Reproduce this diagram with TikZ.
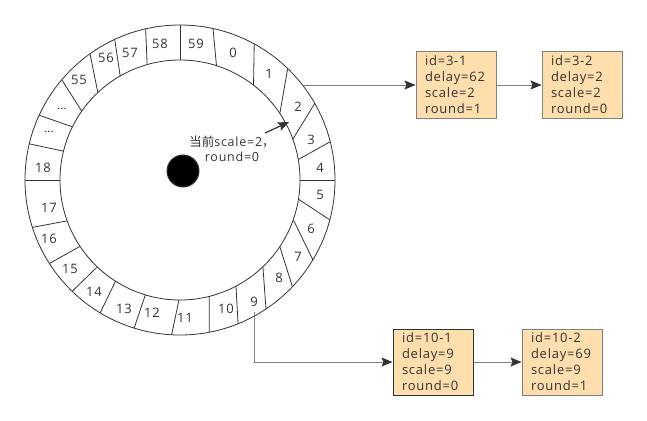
\documentclass[tikz,border=0pt]{standalone}
\usepackage{fontspec}
\setmainfont{Open Sans}[LetterSpace=6]
\newfontfamily\cjkfont{Noto Sans CJK SC}
\usetikzlibrary{arrows.meta}

\definecolor{boxfill}{HTML}{FFDEAD}
\definecolor{linegray}{HTML}{808080}
\definecolor{txtgray}{HTML}{333333}

\tikzset{
  ringline/.style={draw=txtgray, line width=0.8pt},
  slotnum/.style={text=txtgray, inner sep=0pt, font=\fontsize{13}{13}\selectfont},
  task/.style={draw=linegray, fill=boxfill, line width=1pt, minimum width=80pt,
    minimum height=66pt, text width=62pt, align=left, inner xsep=9pt, inner ysep=0pt,
    text=txtgray, font=\fontsize{13}{16}\selectfont},
  link/.style={draw=linegray, line width=0.8pt,
    -{Stealth[length=11pt, width=9pt, inset=2pt, color=txtgray]}},
}

\begin{document}
\begin{tikzpicture}[x=1pt, y=-1pt]
\useasboundingbox (0,0) rectangle (647,420);

% wheel
\draw[ringline] (180,180) circle[radius=155];
\draw[ringline] (180,180) circle[radius=120];
\begin{scope}[shift={(180,180)}, yscale=-1]
  \foreach \a/\b in {90/90, 102.8/105.9, 114.9/119.9, 125.5/133.2, 139.7/145,
      155.3/153.7, 166.5/166.1, 180/180, 197.8/199.9, 212.6/213.6, 225.9/226.4,
      239/237.5, 252.8/253.2, 266.9/269.5, 280.9/284.1, 292/297.8, 303.7/313.7,
      316.5/326.3, 329/340.7, 345.1/350.8, 0/0, 14.3/9.8, 29.6/19.9, 46/33.7,
      61.4/52.2, 77.7/72.3}
    \draw[ringline] (\a:155) -- (\b:120);
\end{scope}

% slot numbers
\foreach \t/\x/\y in {0/233/53, 1/269/74, 2/298/107, 3/311/140, 4/320/168,
    5/320/195, 6/311/229, 7/298/257, 8/279/278, 9/254/302, 10/226/309,
    11/185/318, 12/152/313, 13/124/309, 14/94/292, 15/70/269, 16/49/239,
    17/49/208, 18/43/168, 55/79/80, 56/106/58, 57/130/53, 58/160/44, 59/196/44}
  \node[slotnum] (slot\t) at (\x,\y) {\t};
\node[slotnum, font=\bfseries\fontsize{9}{9}\selectfont] (dotsa) at (62,109) {...};
\node[slotnum, font=\bfseries\fontsize{9}{9}\selectfont] (dotsb) at (49,132) {...};

% current pointer
\node[circle, fill=black, draw=txtgray, line width=1pt, minimum size=32pt,
  inner sep=0pt] (hub) at (183,171) {};
\node[align=center, text=txtgray, inner sep=0pt, font=\fontsize{12.5}{15}\selectfont]
  (cur) at (232,149) {{\cjkfont 当前}scale=2{\cjkfont ，}\\round=0};
\coordinate (ptail) at (265,133);
\coordinate (phead) at (289,122);
\draw[draw=txtgray, line width=1.2pt,
  -{Stealth[length=11pt, width=9pt, inset=2pt]}] (ptail) -- (phead);

% task lists
\node[task] (t31) at (456,85) {id=3-1\\delay=62\\scale=2\\round=1};
\node[task] (t32) at (582,85) {id=3-2\\delay=2\\scale=2\\round=0};
\node[task, draw=txtgray] (t101) at (433,362) {id=10-1\\delay=9\\scale=9\\round=0};
\node[task] (t102) at (562,362) {id=10-2\\delay=69\\scale=9\\round=1};

\coordinate (tick2) at (302,85);
\coordinate (tick9) at (254,312);
\draw[link] (tick2) -- (t31);
\draw[link] (t31) -- (t32);
\draw[link] (tick9) |- (t101);
\draw[link] (t101) -- (t102);
\end{tikzpicture}
\end{document}
